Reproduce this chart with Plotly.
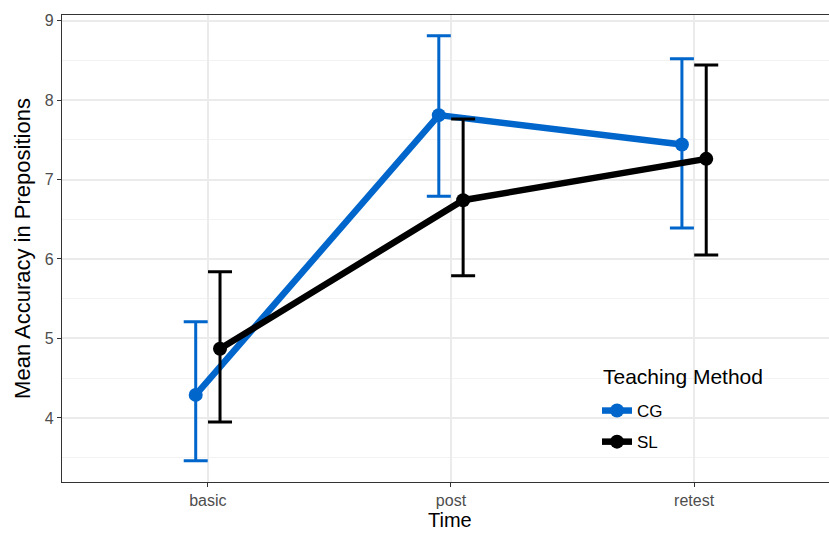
import plotly.graph_objects as go

# Time points and group summaries (mean with upper/lower interval bounds)
times = ["basic", "post", "retest"]
groups = ["CG", "SL"]
colors = {"CG": "#0066CC", "SL": "#000000"}

cg_mean = [4.29, 7.81, 7.44]
cg_upper = [5.21, 8.81, 8.52]
cg_lower = [3.46, 6.79, 6.39]

sl_mean = [4.87, 6.74, 7.26]
sl_upper = [5.84, 7.76, 8.44]
sl_lower = [3.95, 5.79, 6.05]

series = {
    "CG": (cg_mean, cg_upper, cg_lower),
    "SL": (sl_mean, sl_upper, sl_lower),
}
dodge = {"CG": -0.05, "SL": 0.05}

fig = go.Figure()
for g in groups:
    mean, upper, lower = series[g]
    xs = [i + 1 + dodge[g] for i in range(len(times))]
    fig.add_trace(go.Scatter(
        x=xs, y=mean, name=g, mode="lines+markers", legendgroup=g,
        line=dict(color=colors[g], width=6.5),
        marker=dict(color=colors[g], size=14),
        error_y=dict(
            type="data", symmetric=False,
            array=[u - m for u, m in zip(upper, mean)],
            arrayminus=[m - l for m, l in zip(mean, lower)],
            color=colors[g], thickness=3, width=12,
        ),
    ))

font_family = "Liberation Sans, Arial, sans-serif"
grid = "#EBEBEB"
L, T, B, W, H = 62, 15, 51, 829, 533
pw, ph = W - L, H - T - B


def px_x(px):
    return (px - L) / pw


def px_y(py):
    return (H - B - py) / ph


fig.update_layout(
    width=W, height=H,
    margin=dict(l=L, r=0, t=T, b=B),
    paper_bgcolor="white", plot_bgcolor="white",
    font=dict(family=font_family, color="#000000"),
    legend=dict(
        font=dict(size=17, color="#000000"),
        x=px_x(597), y=px_y(393), xanchor="left", yanchor="top",
        bgcolor="rgba(0,0,0,0)", borderwidth=0,
        itemwidth=30, tracegroupgap=6,
    ),
    showlegend=True,
    shapes=[dict(
        type="rect", xref="paper", yref="paper", layer="between",
        x0=px_x(590), x1=px_x(778), y0=px_y(462), y1=px_y(356),
        fillcolor="white", line=dict(width=0),
    )],
    annotations=[
        dict(text="Teaching Method", xref="paper", yref="paper",
             x=px_x(601), y=px_y(376), xanchor="left", yanchor="middle",
             showarrow=False, font=dict(size=21, color="#000000")),
        dict(text="Time", xref="paper", yref="paper",
             x=px_x(450), y=px_y(520), xanchor="center", yanchor="middle",
             showarrow=False, font=dict(size=20, color="#000000")),
    ],
)
fig.update_xaxes(
    range=[0.4, 3.555],
    tickvals=[1, 2, 3], ticktext=times,
    tickfont=dict(size=16, color="#4D4D4D"),
    ticks="outside", ticklen=4, tickcolor="#333333", tickwidth=1,
    showgrid=True, gridcolor=grid, gridwidth=1.5,
    showline=True, linecolor="#333333", linewidth=1.3, mirror=True,
    zeroline=False,
)
fig.update_yaxes(
    range=[3.194, 9.07], dtick=1, tick0=0,
    title=dict(text="Mean Accuracy in Prepositions", font=dict(size=22, color="#000000"), standoff=8),
    tickfont=dict(size=16, color="#4D4D4D"),
    ticks="outside", ticklen=4, tickcolor="#333333", tickwidth=1,
    showgrid=True, gridcolor=grid, gridwidth=1.5,
    minor=dict(dtick=0.5, tick0=0, showgrid=True, gridcolor="#F2F2F2", gridwidth=1),
    showline=True, linecolor="#333333", linewidth=1.3, mirror=False,
    zeroline=False,
)

fig.write_html("out.html")
